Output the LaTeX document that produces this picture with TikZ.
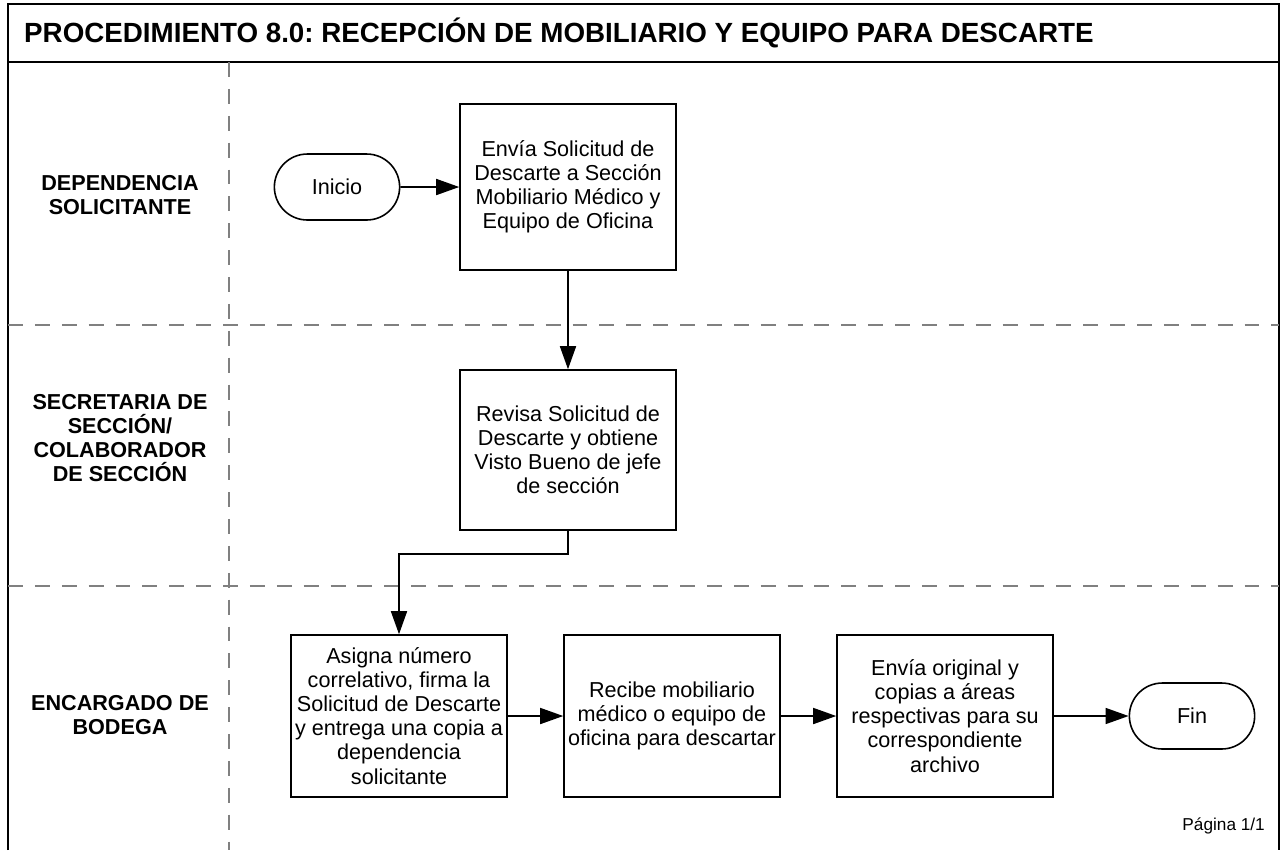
\documentclass[tikz,border=0pt]{standalone}
\usepackage{fontspec}
\setmainfont{Liberation Sans}
\usetikzlibrary{positioning,calc,arrows.meta,shapes.misc}
\definecolor{lanegray}{RGB}{128,128,128}
\frenchspacing

\tikzset{
  proc/.style={draw, line width=0.9pt, align=center, inner xsep=1.5pt,
    minimum width=4.32cm, font=\fontsize{12.3}{13.7}\selectfont},
  term/.style={draw, rounded rectangle, line width=0.9pt, minimum width=2.74cm,
    minimum height=1.32cm, font=\fontsize{12.3}{13.6}\selectfont},
  flow/.style={line width=0.9pt, -{Triangle[length=0.46cm,width=0.32cm]}},
  lane/.style={font=\bfseries\fontsize{12.3}{13.6}\selectfont, align=center},
  sep/.style={draw=lanegray, line width=1pt, dash pattern=on 8.5pt off 6.8pt},
  frame/.style={line width=1.2pt}
}

\begin{document}
\begin{tikzpicture}[x=0.02cm, y=-0.02cm]
      \useasboundingbox (0,0) rectangle (1285,850);

      % frame and header
      \draw[frame] (8,850) -- (8,4) -- (1279,4) -- (1279,850);
      \draw[frame] (8,62) -- (1279,62);
      \node[anchor=west, font=\bfseries\fontsize{15.8}{18}\selectfont] (title) at (18,33)
        {PROCEDIMIENTO 8.0: RECEPCIÓN DE MOBILIARIO Y EQUIPO PARA DESCARTE};

      % lanes
      \draw[sep] (229,62) -- (229,850);
      \draw[sep] (8,325) -- (1279,325);
      \draw[sep] (8,586) -- (1279,586);

      \node[lane] (l1) at (120,195) {DEPENDENCIA\\SOLICITANTE};
      \node[lane] (l2) at (120,438) {SECRETARIA DE\\SECCIÓN/\\COLABORADOR\\DE SECCIÓN};
      \node[lane] (l3) at (120,715) {ENCARGADO DE\\BODEGA};

      % dependencia solicitante
      \node[term] (inicio) at (337,187) {Inicio};
      \node[proc, minimum height=3.32cm] (envia) at (568,187)
        {Envía Solicitud de\\Descarte a Sección\\Mobiliario Médico y\\Equipo de Oficina};

      % secretaria
      \node[proc, minimum height=3.2cm] (revisa) at (568,450)
        {Revisa Solicitud de\\Descarte y obtiene\\Visto Bueno de jefe\\de sección};

      % encargado de bodega
      \node[proc, minimum height=3.24cm] (asigna) at (399,716)
        {Asigna número\\correlativo, firma la\\Solicitud de Descarte\\y entrega una copia a\\dependencia\\solicitante};
      \node[proc, minimum height=3.24cm] (recibe) at (672,716)
        {Recibe mobiliario\\médico o equipo de\\oficina para descartar};
      \node[proc, minimum height=3.24cm] (enviaorig) at (945,716)
        {Envía original y\\copias a áreas\\respectivas para su\\correspondiente\\archivo};
      \node[term] (fin) at (1192,716) {Fin};

      \node[anchor=east, font=\fontsize{9.8}{12}\selectfont] (pag) at (1271,826) {Página 1/1};

      % connectors
      \draw[flow] (inicio) -- (envia);
      \draw[flow] (envia) -- (revisa);
      \draw[flow] (revisa.south) -- ++(0,23) -| (asigna.north);
      \draw[flow] (asigna) -- (recibe);
      \draw[flow] (recibe) -- (enviaorig);
      \draw[flow] (enviaorig) -- (fin);

\end{tikzpicture}
\end{document}
